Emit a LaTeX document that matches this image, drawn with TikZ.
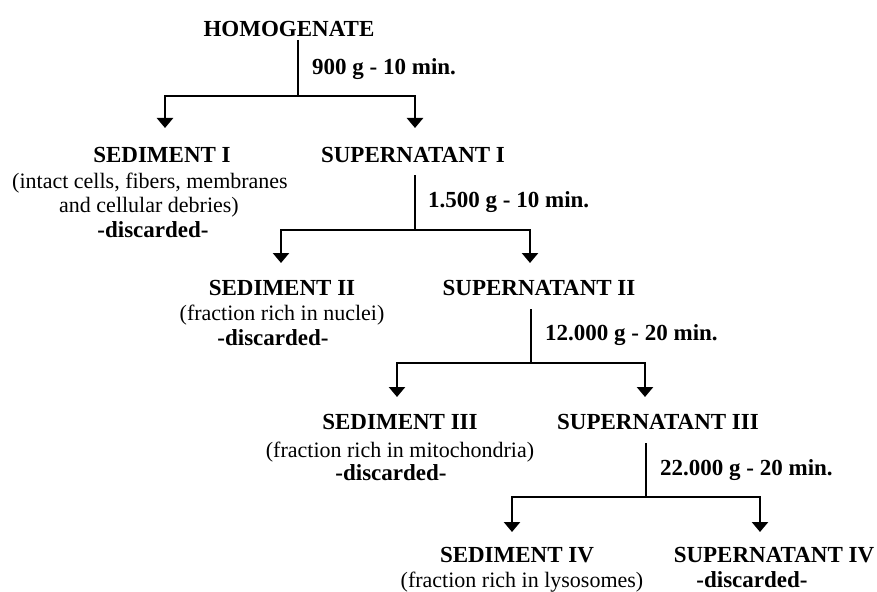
\documentclass[tikz,border=0pt]{standalone}
\usepackage{fontspec}
\setmainfont{Liberation Serif}
\usetikzlibrary{arrows.meta}
\tikzset{
	title/.style={font=\fontsize{23}{25}\selectfont\bfseries, inner sep=0pt, anchor=base},
	note/.style={font=\fontsize{22}{24}\selectfont, inner sep=0pt, anchor=base},
	speed/.style={font=\fontsize{23}{25}\selectfont\bfseries, inner sep=0pt, anchor=base west},
	link/.style={line width=2.8pt, line join=miter},
	spin/.style={link, -{Triangle[width=16pt,length=10pt]}}
}

\begin{document}
\begin{tikzpicture}[x=1pt,y=-1pt]
			%%%%% START %%%%%
			
			\useasboundingbox[fill=white] (0,0) rectangle (877,591);
			
			\node[title] (homog) at (289,37) {HOMOGENATE};
			\node[speed] (spd1) at (312,75) {900 g - 10 min.};
			\coordinate (top1) at (298,40);
			\coordinate (split1) at (298,96);
			\coordinate (tip1l) at (165,128);
			\coordinate (tip1r) at (415,128);
			\draw[link] (top1) -- (split1);
			\draw[spin] (split1) -| (tip1l);
			\draw[spin] (split1) -| (tip1r);
			
			\node[title] (sed1) at (162,162) {SEDIMENT I};
			\node[note] (sed1a) at (150,188) {(intact cells, fibers, membranes};
			\node[note] (sed1b) at (149,212) {and cellular debries)};
			\node[title] (sed1c) at (153,237) {-discarded-};
			\node[title] (sup1) at (413,162) {SUPERNATANT I};
			
			\node[speed] (spd2) at (428,207) {1.500 g - 10 min.};
			\coordinate (top2) at (415,175);
			\coordinate (split2) at (415,230);
			\coordinate (tip2l) at (281,263);
			\coordinate (tip2r) at (530,263);
			\draw[link] (top2) -- (split2);
			\draw[spin] (split2) -| (tip2l);
			\draw[spin] (split2) -| (tip2r);
			
			\node[title] (sed2) at (282,295) {SEDIMENT II};
			\node[note] (sed2a) at (282,320) {(fraction rich in nuclei)};
			\node[title] (sed2b) at (273,345) {-discarded-};
			\node[title] (sup2) at (539,295) {SUPERNATANT II};
			
			\node[speed] (spd3) at (545,340) {12.000 g - 20 min.};
			\coordinate (top3) at (531,309);
			\coordinate (split3) at (531,363);
			\coordinate (tip3l) at (397,397);
			\coordinate (tip3r) at (645,397);
			\draw[link] (top3) -- (split3);
			\draw[spin] (split3) -| (tip3l);
			\draw[spin] (split3) -| (tip3r);
			
			\node[title] (sed3) at (400,429) {SEDIMENT III};
			\node[note] (sed3a) at (400,457) {(fraction rich in mitochondria)};
			\node[title] (sed3b) at (391,480) {-discarded-};
			\node[title] (sup3) at (658,429) {SUPERNATANT III};
			
			\node[speed] (spd4) at (660,475) {22.000 g - 20 min.};
			\coordinate (top4) at (646,443);
			\coordinate (split4) at (646,497);
			\coordinate (tip4l) at (512,532);
			\coordinate (tip4r) at (760,532);
			\draw[link] (top4) -- (split4);
			\draw[spin] (split4) -| (tip4l);
			\draw[spin] (split4) -| (tip4r);
			
			\node[title] (sed4) at (517,562) {SEDIMENT IV};
			\node[note] (sed4a) at (522,587) {(fraction rich in lysosomes)};
			\node[title] (sup4) at (774,562) {SUPERNATANT IV};
			\node[title] (sup4a) at (752,587) {-discarded-};
			
			%%%%% END %%%%%
\end{tikzpicture}
\end{document}
